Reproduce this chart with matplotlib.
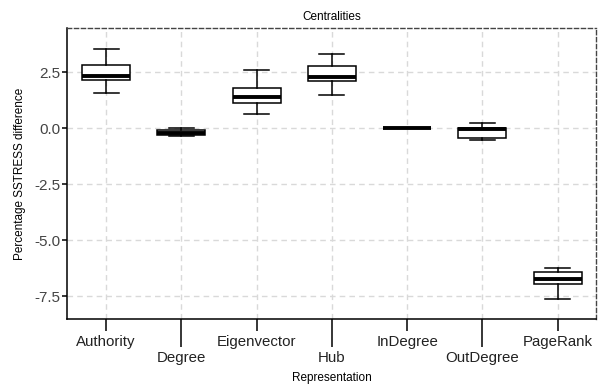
import matplotlib
matplotlib.use('Agg')
import matplotlib.pyplot as plt

plt.rcParams['font.family'] = ['Liberation Sans', 'DejaVu Sans']
plt.rcParams['axes.unicode_minus'] = False

# valores de cada caja (bigote inferior, Q1, mediana, Q3, bigote superior)
categorias = ['Authority', 'Degree', 'Eigenvector', 'Hub', 'InDegree', 'OutDegree', 'PageRank']
bigote_inf = [1.56, -0.32, 0.63, 1.47, 0.0, -0.51, -7.63]
q1 = [2.16, -0.31, 1.12, 2.11, 0.0, -0.42, -6.96]
mediana = [2.34, -0.21, 1.41, 2.30, 0.0, -0.02, -6.74]
q3 = [2.83, -0.09, 1.79, 2.78, 0.0, 0.03, -6.40]
bigote_sup = [3.54, 0.03, 2.60, 3.33, 0.0, 0.25, -6.22]
marcas_y = [-7.5, -5.0, -2.5, 0.0, 2.5]

stats = []
for i in range(len(categorias)):
    stats.append({'whislo': bigote_inf[i], 'q1': q1[i], 'med': mediana[i],
                  'q3': q3[i], 'whishi': bigote_sup[i], 'fliers': []})

fig = plt.figure(figsize=(6, 3.87), dpi=100)
ax = fig.add_axes([67/600, 1 - 319/387, (596 - 67)/600, (319 - 28)/387])

posiciones = list(range(1, len(categorias) + 1))
ax.bxp(stats, positions=posiciones, widths=0.64, showfliers=False, patch_artist=True,
       boxprops=dict(facecolor='white', edgecolor='black', linewidth=1.1),
       medianprops=dict(color='black', linewidth=2.8, solid_capstyle='butt'),
       whiskerprops=dict(color='black', linewidth=1.1),
       capprops=dict(color='black', linewidth=1.1),
       capwidths=0.33, zorder=3)

ax.set_xlim(0.48, 7.51)
ax.set_ylim(-8.51, 4.48)

# etiquetas alternadas: impares arriba, pares abajo con marca larga (longitudes en puntos)
ax.set_xticks(posiciones[0::2], labels=categorias[0::2])
ax.set_xticks(posiciones[1::2], labels=categorias[1::2], minor=True)
ax.tick_params(axis='x', which='major', length=8.6, width=1.1, pad=3, labelsize=10.8, colors='black', labelcolor='#222222')
ax.tick_params(axis='x', which='minor', length=20, width=1.1, pad=3, labelsize=10.8, colors='black', labelcolor='#222222')

ax.set_yticks(marcas_y, labels=['%.1f' % v for v in marcas_y])
ax.tick_params(axis='y', length=3.6, width=1.1, pad=1, labelsize=11, labelcolor='#444444')

ax.grid(which='both', color='#d9d9d9', linestyle=(0, (4, 3)), linewidth=1.0, zorder=0)
ax.set_axisbelow(True)

ax.spines['left'].set_linewidth(1.1)
ax.spines['bottom'].set_linewidth(1.1)
for lado in ['top', 'right']:
    ax.spines[lado].set_linestyle((0, (3, 2)))
    ax.spines[lado].set_color('#444444')
    ax.spines[lado].set_linewidth(1.0)

fig.text(331.5/600, 1 - 17/387, 'Centralities', ha='center', va='center', fontsize=8.5)
fig.text(331.5/600, 1 - 378/387, 'Representation', ha='center', va='center', fontsize=8.5)
fig.text(20/600, 1 - 173.5/387, 'Percentage SSTRESS difference', ha='center', va='center',
         rotation=90, fontsize=8.5)

fig.savefig('out.png', dpi=100)
